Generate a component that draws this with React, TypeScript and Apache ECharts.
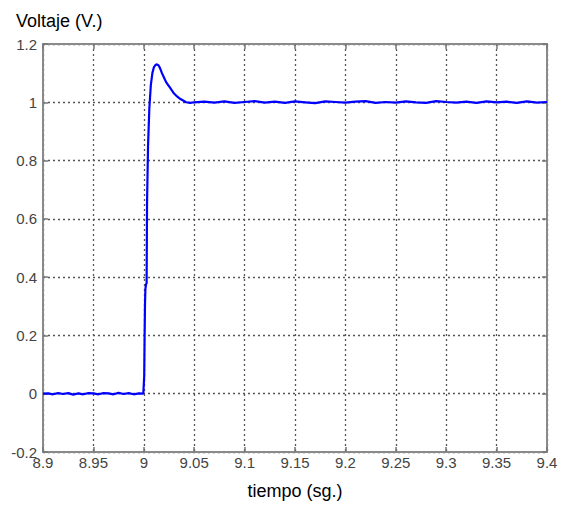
import React, { useEffect, useRef } from "react";
import * as echarts from "echarts";

const times: number[] = [
  8.9, 8.905, 8.91, 8.915, 8.92, 8.925, 8.93, 8.935, 8.94, 8.945, 8.95, 8.955, 8.96, 8.965, 8.97, 8.975, 8.98, 8.985, 8.99, 8.995, 8.9995,
  9.0004, 9.0008, 9.0012, 9.0016, 9.0022, 9.0028, 9.0032, 9.0042, 9.0055, 9.007, 9.0085, 9.010, 9.0115, 9.013, 9.0145, 9.016,
  9.018, 9.020, 9.022, 9.024, 9.026, 9.028, 9.030, 9.033, 9.036, 9.039, 9.042, 9.046, 9.05,
  9.06, 9.07, 9.08, 9.09, 9.10, 9.11, 9.12, 9.13, 9.14, 9.15, 9.16, 9.17, 9.18, 9.19, 9.20,
  9.21, 9.22, 9.23, 9.24, 9.25, 9.26, 9.27, 9.28, 9.29, 9.30, 9.31, 9.32, 9.33, 9.34, 9.35,
  9.36, 9.37, 9.38, 9.39, 9.40,
];
const voltage: number[] = [
  0, 0.001, -0.002, 0.002, -0.001, 0.002, -0.003, 0.001, -0.002, 0.002, 0.001, -0.002, 0.002, 0.001, -0.002, 0.003, -0.001, 0.002, -0.002, 0.001, 0,
  0.06, 0.2, 0.31, 0.36, 0.375, 0.38, 0.65, 0.85, 0.98, 1.06, 1.10, 1.12, 1.128, 1.13, 1.127, 1.118,
  1.10, 1.085, 1.07, 1.06, 1.05, 1.04, 1.03, 1.02, 1.012, 1.006, 1.0, 0.998, 1.0,
  1.002, 0.999, 1.003, 0.998, 1.001, 1.004, 0.999, 1.002, 0.998, 1.003, 1.0, 0.997, 1.003, 1.001, 0.999,
  1.002, 1.004, 0.998, 1.001, 0.999, 1.003, 1.0, 0.998, 1.004, 1.001, 0.999, 1.002, 0.998, 1.003, 1.0,
  1.002, 0.998, 1.003, 0.999, 1.001,
];

const xMin = 8.9;
const xMax = 9.4;
const xStep = 0.05;
const yMin = -0.2;
const yMax = 1.2;
const yStep = 0.2;

export default function App() {
  const ref = useRef<HTMLDivElement>(null);
  useEffect(() => {
    if (!ref.current) return;
    const chart = echarts.init(ref.current, null, { renderer: "svg" });
    const fmt = (v: number) => String(+v.toFixed(2));
    const labelStyle = { color: "#444", fontSize: 15, fontFamily: "Liberation Sans" };
    const axisLine = { show: true, onZero: false, lineStyle: { color: "#8a8a8a", width: 2 } };
    const tick = { show: true, inside: true, length: 5, lineStyle: { color: "#777", width: 1.5 } };
    const split = { show: true, lineStyle: { color: "#555", type: [2, 3] as any, width: 1.3 } };
    chart.setOption({
      animation: false,
      grid: { left: 43, right: 16, top: 44, bottom: 49, show: false },
      graphic: [
        {
          type: "text",
          left: 16,
          top: 12,
          style: { text: "Voltaje (V.)", fontSize: 18, fontFamily: "Liberation Sans", fill: "#000" },
        },
      ],
      xAxis: [
        {
          type: "value",
          min: xMin,
          max: xMax,
          interval: xStep,
          axisLine,
          axisTick: tick,
          splitLine: split,
          axisLabel: { ...labelStyle, margin: 3, formatter: fmt },
          name: "tiempo (sg.)",
          nameLocation: "middle",
          nameGap: 30,
          nameTextStyle: { fontSize: 18, fontFamily: "Liberation Sans", color: "#000" },
        },
        {
          type: "value",
          position: "top",
          min: xMin,
          max: xMax,
          interval: xStep,
          axisLine,
          axisTick: tick,
          splitLine: { show: false },
          axisLabel: { show: false },
        },
      ],
      yAxis: [
        {
          type: "value",
          min: yMin,
          max: yMax,
          interval: yStep,
          axisLine,
          axisTick: tick,
          splitLine: split,
          axisLabel: { ...labelStyle, margin: 6, formatter: fmt },
        },
        {
          type: "value",
          position: "right",
          min: yMin,
          max: yMax,
          interval: yStep,
          axisLine,
          axisTick: tick,
          splitLine: { show: false },
          axisLabel: { show: false },
        },
      ],
      series: [
        {
          type: "line",
          data: times.map((t, i) => [t, voltage[i]]),
          showSymbol: false,
          lineStyle: { color: "#0000ff", width: 2.2 },
          itemStyle: { color: "#0000ff" },
        },
      ],
    });
    return () => chart.dispose();
  }, []);
  return (
    <div
      ref={ref}
      style={{ position: "absolute", left: 0, top: 0, width: 563, height: 505 }}
    />
  );
}
